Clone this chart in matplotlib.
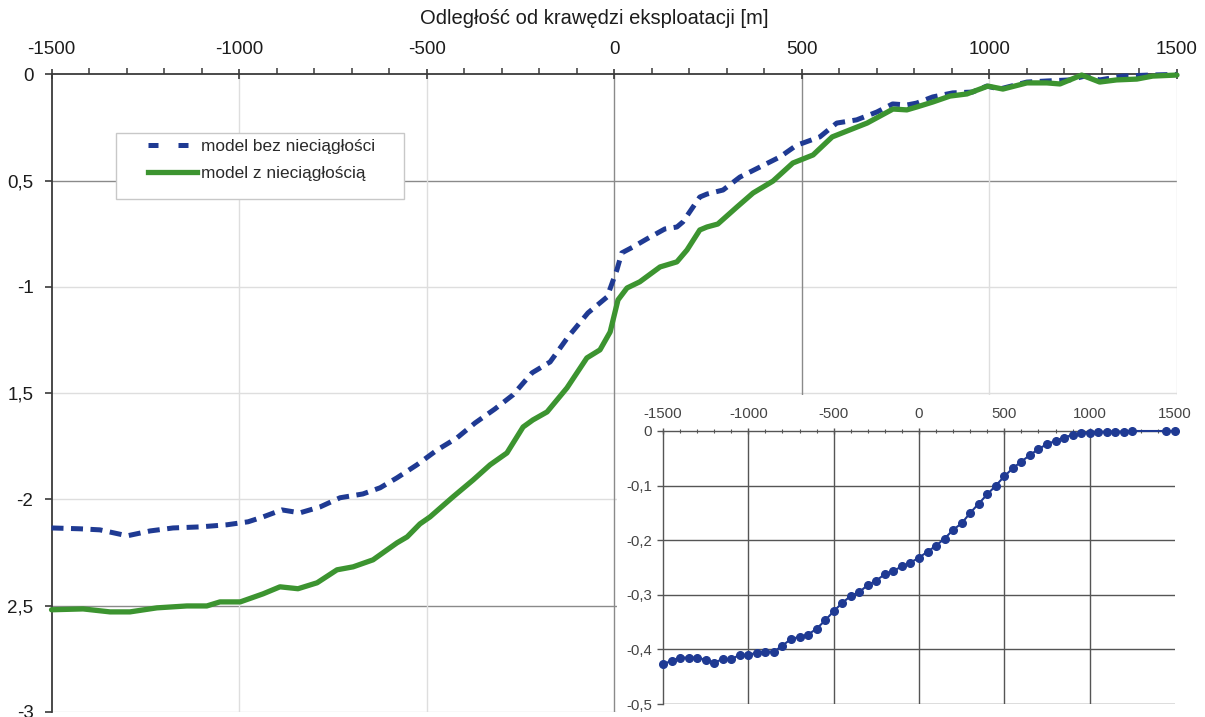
import matplotlib
matplotlib.use('Agg')
import matplotlib.pyplot as plt
from matplotlib.patches import Rectangle
from matplotlib.lines import Line2D
from matplotlib.ticker import MultipleLocator

plt.rcParams['font.family'] = ['Liberation Sans', 'DejaVu Sans']
plt.rcParams['axes.unicode_minus'] = False

# profil obnizen [m] wzdluz odleglosci od krawedzi eksploatacji [m]
x_bez = [-1500, -1424, -1371, -1298, -1237, -1176, -1104, -1032, -976, -936,
         -886, -838, -784, -731, -670, -624, -579, -526, -472, -419,
         -371, -318, -270, -219, -171, -123, -70, -19, 7, 20,
         50, 87, 135, 167, 183, 228, 247, 290, 335, 388,
         442, 487, 503, 548, 593, 646, 700, 742, 780, 806,
         849, 902, 955, 993, 1027, 1100, 1153, 1214, 1254, 1294,
         1355, 1427, 1500]
w_bez = [-2.134, -2.138, -2.143, -2.171, -2.148, -2.134, -2.129, -2.119, -2.105, -2.082,
         -2.049, -2.063, -2.035, -1.992, -1.974, -1.945, -1.898, -1.837, -1.767, -1.710,
         -1.640, -1.574, -1.508, -1.404, -1.353, -1.235, -1.122, -1.047, -0.920, -0.840,
         -0.812, -0.774, -0.727, -0.718, -0.694, -0.577, -0.563, -0.544, -0.483, -0.436,
         -0.388, -0.332, -0.323, -0.294, -0.229, -0.214, -0.177, -0.139, -0.144, -0.135,
         -0.106, -0.087, -0.083, -0.055, -0.069, -0.036, -0.031, -0.026, -0.008, -0.026,
         -0.008, -0.003, 0.0]

x_z = [-1500, -1416, -1344, -1291, -1219, -1139, -1086, -1051, -997, -936,
       -891, -843, -792, -739, -696, -643, -579, -552, -518, -491,
       -430, -376, -331, -286, -243, -217, -179, -126, -73, -38,
       -11, 10, 34, 68, 122, 167, 194, 228, 247, 276,
       327, 370, 423, 476, 503, 530, 581, 621, 674, 743,
       780, 807, 849, 895, 940, 996, 1036, 1100, 1153, 1188,
       1246, 1294, 1339, 1393, 1435, 1500]
w_z = [-2.519, -2.515, -2.529, -2.529, -2.510, -2.501, -2.501, -2.482, -2.482, -2.444,
       -2.411, -2.420, -2.392, -2.331, -2.317, -2.284, -2.204, -2.176, -2.115, -2.082,
       -1.988, -1.908, -1.837, -1.781, -1.659, -1.626, -1.588, -1.475, -1.334, -1.296,
       -1.212, -1.061, -1.005, -0.976, -0.906, -0.882, -0.826, -0.732, -0.718, -0.704,
       -0.624, -0.558, -0.502, -0.417, -0.398, -0.379, -0.294, -0.266, -0.229, -0.163,
       -0.167, -0.153, -0.130, -0.102, -0.092, -0.055, -0.069, -0.040, -0.040, -0.045,
       -0.003, -0.036, -0.026, -0.022, -0.008, -0.003]

# wstawka: profil co 50 m
x_ins = [-1500, -1450, -1400, -1350, -1300, -1250, -1200, -1150, -1100, -1050,
         -1000, -950, -900, -850, -800, -750, -700, -650, -600, -550,
         -500, -450, -400, -350, -300, -250, -200, -150, -100, -50,
         0, 50, 100, 150, 200, 250, 300, 350, 400, 450,
         500, 550, 600, 650, 700, 750, 800, 850, 900, 950,
         1000, 1050, 1100, 1150, 1200, 1250, 1450, 1500]
w_ins = [-0.427, -0.421, -0.415, -0.415, -0.415, -0.419, -0.424, -0.418, -0.418, -0.410,
         -0.410, -0.406, -0.404, -0.404, -0.393, -0.381, -0.377, -0.373, -0.362, -0.347,
         -0.330, -0.315, -0.302, -0.295, -0.282, -0.274, -0.262, -0.256, -0.248, -0.241,
         -0.232, -0.221, -0.210, -0.197, -0.181, -0.169, -0.150, -0.133, -0.116, -0.100,
         -0.083, -0.068, -0.056, -0.044, -0.033, -0.024, -0.018, -0.012, -0.007, -0.004,
         -0.003, -0.002, -0.001, -0.001, -0.001, 0.0, 0.0, 0.0]

y_ticks = [0, -0.5, -1, -1.5, -2, -2.5, -3]
y_labels = ['0', '0,5', '-1', '1,5', '-2', '2,5', '-3']
x_ticks = [-1500, -1000, -500, 0, 500, 1000, 1500]
ins_y_ticks = [0, -0.1, -0.2, -0.3, -0.4, -0.5]
ins_y_labels = ['0', '-0,1', '-0,2', '-0,3', '-0,4', '-0,5']

BLUE = '#1f3a93'
GREEN = '#3c9430'
TXT = '#1c1c1c'
W, H = 1205, 717

fig = plt.figure(figsize=(W / 100, H / 100), dpi=100)
ax = fig.add_axes([51.5 / W, 1 - 712 / H, (1177 - 51.5) / W, (712 - 74.4) / H])
ax.set_xlim(-1500, 1500)
ax.set_ylim(-3, 0)

# siatka
light, dark = '#dedede', '#8a8a8a'
for v in y_ticks[1:]:
    ax.axhline(v, color=dark if v in (-0.5, -2.5) else light, lw=1, zorder=1)
for v in x_ticks[1:]:
    ax.axvline(v, color=dark if v in (0, 500) else light, lw=1, zorder=1)

ax.plot(x_bez, w_bez, color=BLUE, lw=3.6, dashes=(2.4, 1.5), clip_on=False, zorder=3)
ax.plot(x_z, w_z, color=GREEN, lw=3.8, solid_capstyle='round',
        solid_joinstyle='round', clip_on=False, zorder=3)

ax.xaxis.tick_top()
ax.set_xticks(x_ticks)
ax.xaxis.set_minor_locator(MultipleLocator(100))
ax.set_yticks(y_ticks)
ax.set_yticklabels(y_labels)
for s in ('right', 'bottom'):
    ax.spines[s].set_visible(False)
for s in ('left', 'top'):
    ax.spines[s].set_color('#3a3a3a')
    ax.spines[s].set_linewidth(1.3)
ax.tick_params(axis='x', which='major', direction='inout', length=7, width=1.2,
               color='#3a3a3a', labelsize=13.5, labelcolor=TXT, pad=8)
ax.tick_params(axis='x', which='minor', direction='out', length=4, width=1.1, color='#3a3a3a')
ax.tick_params(axis='y', direction='out', length=5, width=1.2, color='#3a3a3a',
               labelsize=13.5, labelcolor=TXT, pad=8)

fig.text(594 / W, 1 - 18 / H, 'Odległość od krawędzi eksploatacji [m]',
         ha='center', va='center', fontsize=14.5, color=TXT)

# legenda z wlasna ramka
ax.add_patch(Rectangle((116 / W, 1 - 199 / H), (404 - 116) / W, (199 - 133) / H,
                       transform=fig.transFigure, facecolor='white', edgecolor='#c8c8c8',
                       lw=1, clip_on=False, zorder=4))
handles = [Line2D([], [], color=BLUE, lw=3.6, dashes=(2, 4)),
           Line2D([], [], color=GREEN, lw=3.8)]
ax.legend(handles, ['model bez nieciągłości', 'model z nieciągłością'],
          loc='upper left', bbox_to_anchor=(148 / W, 1 - 139 / H),
          bbox_transform=fig.transFigure, frameon=False, borderpad=0,
          borderaxespad=0, handlelength=2.85, handletextpad=0.25,
          labelspacing=0.7, fontsize=12.4, labelcolor='#2a2a2a')

# biale tlo pod wstawka
fig.add_artist(Rectangle((617 / W, 0), (W - 617) / W, (H - 395) / H,
                         transform=fig.transFigure, facecolor='white',
                         edgecolor='none', zorder=1))

ins = fig.add_axes([663 / W, 1 - 704 / H, (1175 - 663) / W, (704 - 431) / H])
ins.set_zorder(2)
ins.set_xlim(-1500, 1500)
ins.set_ylim(-0.5, 0)
gc = '#555555'
for v in ins_y_ticks[1:]:
    ins.axhline(v, color=gc, lw=1, zorder=1)
for v in x_ticks[1:-1]:
    ins.axvline(v, color=gc, lw=1, zorder=1)
ins.plot(x_ins, w_ins, color=BLUE, lw=1.5, marker='o', ms=5.5, clip_on=False, zorder=3)
ins.xaxis.tick_top()
ins.set_xticks(x_ticks)
ins.xaxis.set_minor_locator(MultipleLocator(100))
ins.set_yticks(ins_y_ticks)
ins.set_yticklabels(ins_y_labels)
for s in ('right', 'bottom'):
    ins.spines[s].set_visible(False)
for s in ('left', 'top'):
    ins.spines[s].set_color(gc)
    ins.spines[s].set_linewidth(1)
ins.tick_params(axis='x', which='major', direction='inout', length=5, width=1,
                color=gc, labelsize=10.8, labelcolor='#444444', pad=5)
ins.tick_params(axis='x', which='minor', direction='inout', length=3, width=0.8, color=gc)
ins.tick_params(axis='y', direction='out', length=4, width=1, color=gc,
                labelsize=10.8, labelcolor='#444444', pad=4)

fig.savefig('out.png', dpi=100)
